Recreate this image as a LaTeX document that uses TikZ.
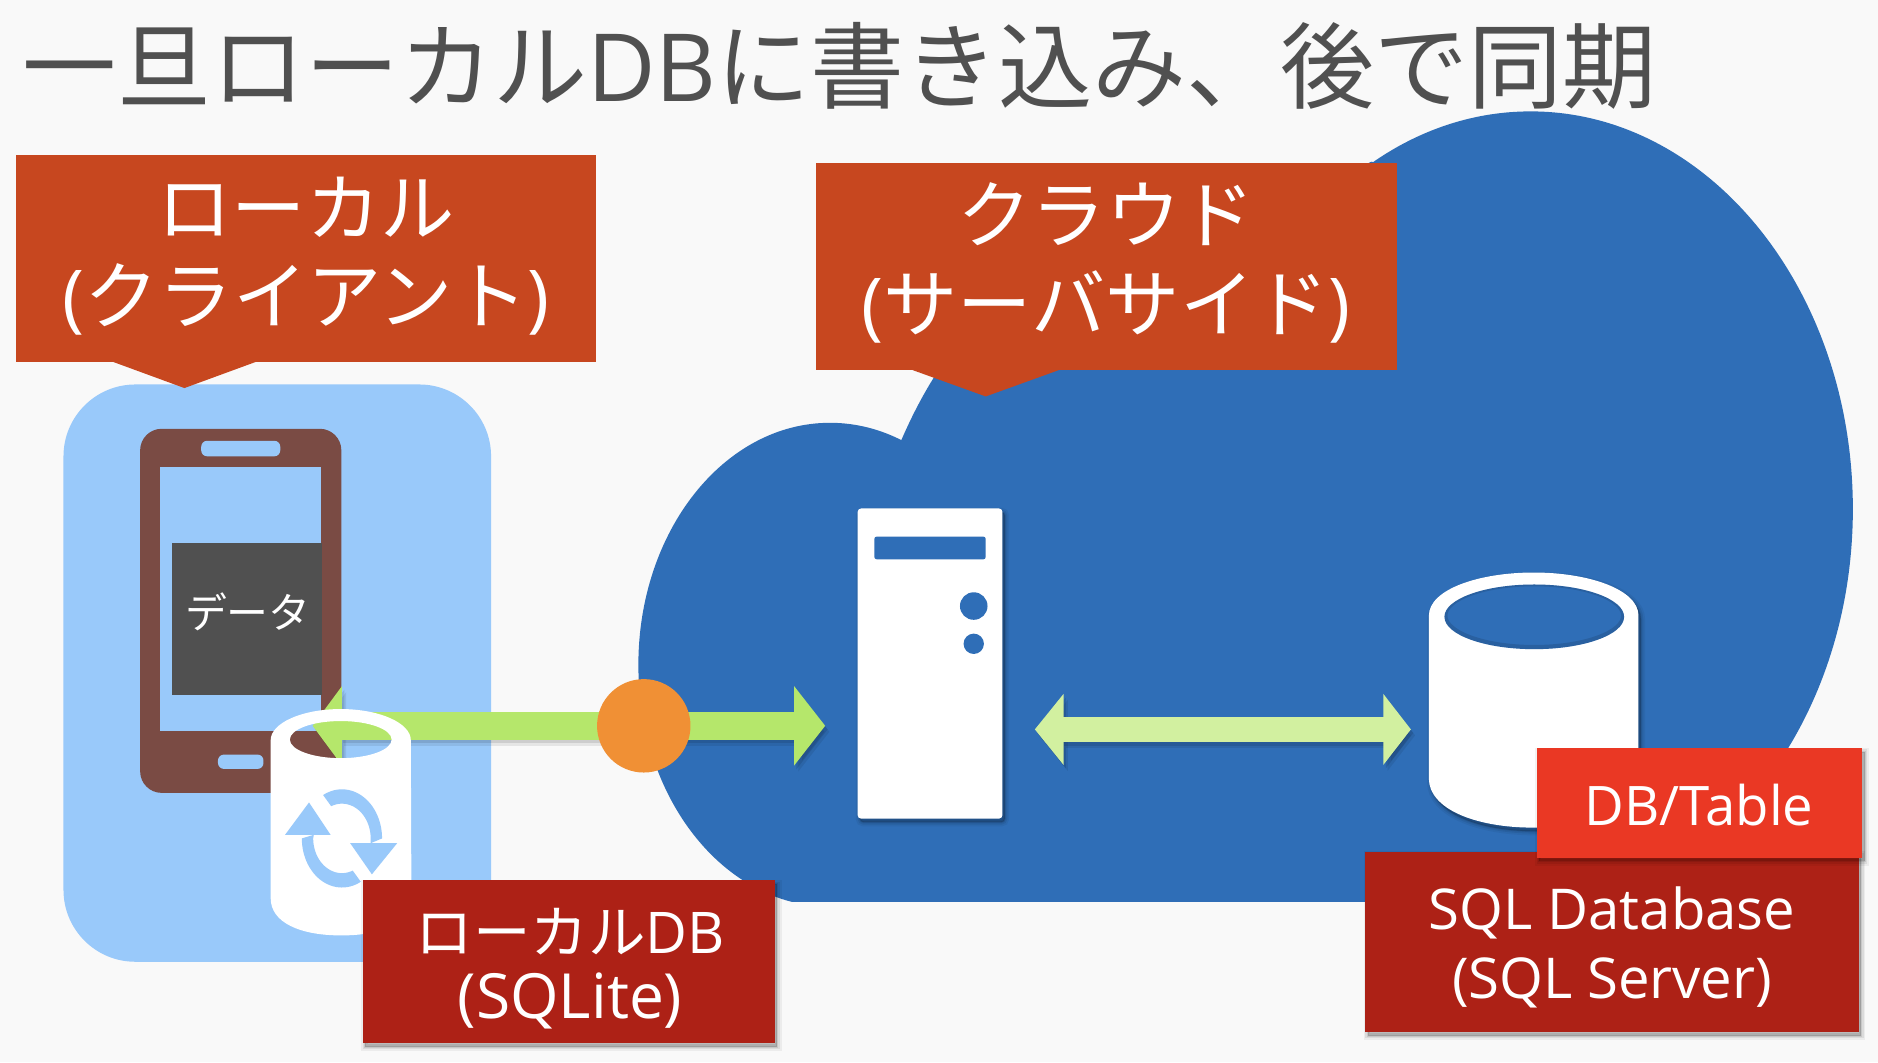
\documentclass[tikz,border=0pt]{standalone}
\usepackage{fontspec}
\usetikzlibrary{arrows.meta,shadows,shapes.geometric}
\setmainfont{Open Sans}
\newfontfamily\cjk{Noto Sans CJK JP}
\definecolor{bgc}{HTML}{F9F9F9}
\definecolor{cloudblue}{HTML}{2F6EB7}
\definecolor{paleblue}{HTML}{99C9FA}
\definecolor{phonebrown}{HTML}{7A4B44}
\definecolor{darkgray}{HTML}{505050}
\definecolor{callout}{HTML}{C7471F}
\definecolor{darkred}{HTML}{AD2116}
\definecolor{brightred}{HTML}{EA3824}
\definecolor{green1}{HTML}{B5E76B}
\definecolor{green2}{HTML}{D2F0A0}
\definecolor{orangec}{HTML}{F09035}
\tikzset{
  softshadow/.style={
    general shadow={shadow xshift=2pt,shadow yshift=-3pt,fill=black,draw=black,line width=7pt,fill opacity=.05,draw opacity=.05},
    general shadow={shadow xshift=2pt,shadow yshift=-3pt,fill=black,draw=black,line width=4pt,fill opacity=.07,draw opacity=.07},
    general shadow={shadow xshift=2pt,shadow yshift=-3pt,fill=black,draw=black,line width=1.5pt,fill opacity=.09,draw opacity=.09}},
  boxnode/.style={rectangle,inner sep=0pt,outer sep=0pt},
  labeltext/.style={inner sep=0pt,text=white,align=center},
  syncfill/.style={fill=paleblue,draw=none},
  arrowshadow/.style={preaction={draw=black,opacity=.1,line width=#1,transform canvas={xshift=2pt,yshift=-3pt}},
                      preaction={draw=black,opacity=.08,line width=#1,transform canvas={xshift=3.5pt,yshift=-5pt}}},
}
\begin{document}
\begin{tikzpicture}[x=1pt,y=-1pt]
\useasboundingbox (0,0) rectangle (1568,886.7);
\fill[bgc] (0,0) rectangle (1568,886.7);

% cloud
\begin{scope}
  \clip (0,0) rectangle (1568,753);
  \fill[cloudblue] (693,555) ellipse [x radius=160,y radius=202];
  \fill[cloudblue] (1278,425) ellipse [x radius=269,y radius=332];
  \fill[cloudblue] (751,371) .. controls (760,350) and (770,330) .. (783,310) -- (1145,135) -- (1400,200) -- (1490,640) -- (1440,753) -- (693,753) -- cycle;
\end{scope}

% client panel
\node[boxnode,fill=paleblue,rounded corners=60pt,minimum width=357pt,minimum height=482pt] (panel) at (231.5,562) {};

% phone
\node[boxnode,fill=phonebrown,rounded corners=18pt,minimum width=168pt,minimum height=304pt] (phone) at (201,510) {};
\node[boxnode,fill=paleblue,rounded corners=5pt,minimum width=66pt,minimum height=13pt] (speaker) at (201,374.5) {};
\node[boxnode,fill=paleblue,minimum width=134pt,minimum height=220pt] (screen) at (201,500) {};
\node[boxnode,fill=paleblue,rounded corners=5pt,minimum width=38pt,minimum height=12pt] (homebtn) at (201,636) {};
\node[boxnode,fill=darkgray,minimum width=125pt,minimum height=127pt] (data) at (206.5,516.5) {};
\node[labeltext,font=\cjk\fontsize{35}{40}\selectfont] (datatext) at (207,511) {データ};

% main arrow
\coordinate (mainL) at (261,606);
\coordinate (mainR) at (689,606);
\draw[green1,line width=23pt,{Triangle[length=24.5pt,width=65pt]}-{Triangle[length=26pt,width=65pt]},arrowshadow=23pt] (mainL) -- (mainR);

% local cylinder
\fill[white,even odd rule]
  (226,618) arc [start angle=180,end angle=360,x radius=58.5,y radius=26]
  -- (343.5,750) .. controls (343.5,770) and (320,781) .. (285,781) .. controls (250,781) and (226,770) .. (226,750) -- cycle
  (284.5,617.5) ellipse [x radius=42.5,y radius=15.5];

% sync icon
\fill[syncfill] plot[domain=-118:0,samples=30] ({285.5+33.5*cos(\x)},{700+41*sin(\x)}) -- (309.5,704)
  -- plot[domain=0:-112,samples=30] ({285.5+24*cos(\x)},{700+29*sin(\x)}) -- cycle;
\fill[syncfill] plot[domain=62:180,samples=30] ({285.5+33.5*cos(\x)},{700+41*sin(\x)}) -- (262,697)
  -- plot[domain=180:68,samples=30] ({285.5+24*cos(\x)},{700+29*sin(\x)}) -- cycle;
\fill[syncfill] (258,670) -- (276,697) -- (238,697) -- cycle;
\fill[syncfill] (310.5,730) -- (292.4,704) -- (331.6,704) -- cycle;

% local DB label
\node[boxnode,fill=darkred,softshadow,minimum width=344pt,minimum height=136pt] (localdb) at (475,803) {};
\node[labeltext,font=\fontsize{48}{54}\selectfont] (localdbtext) at (476,808.5) {{\cjk ローカル}DB\\{\fontsize{52}{54}\selectfont (SQLite)}};

% sync point
\node[circle,fill=orangec,minimum size=78pt,inner sep=0pt] (syncpt) at (537.5,606) {};

% server
\node[boxnode,fill=white,rounded corners=3pt,softshadow,minimum width=121pt,minimum height=259pt] (server) at (776.5,554) {};
\node[boxnode,fill=cloudblue,rounded corners=2pt,minimum width=93pt,minimum height=19pt] (lcd) at (776.5,457.5) {};
\node[circle,fill=cloudblue,minimum size=23pt,inner sep=0pt] (btnA) at (813,506) {};
\node[circle,fill=cloudblue,minimum size=17pt,inner sep=0pt] (btnB) at (813,537.5) {};

% DB cylinder
\fill[white,softshadow]
  (1193,514) .. controls (1193,492) and (1235,478) .. (1280.5,478) .. controls (1326,478) and (1368,492) .. (1368,514)
  -- (1368,650) .. controls (1368,675) and (1330,691) .. (1280.5,691) .. controls (1231,691) and (1193,675) .. (1193,650) -- cycle;
\fill[cloudblue] (1281,515) ellipse [x radius=75,y radius=27];
\begin{scope}
  \clip (1281,515) ellipse [x radius=75,y radius=27];
  \draw[black,opacity=.12,line width=5pt] (1281,514) ellipse [x radius=75,y radius=27];
\end{scope}

% db arrow
\coordinate (dbL) at (864,609);
\coordinate (dbR) at (1178,609);
\draw[green2,line width=21pt,{Triangle[length=24pt,width=58pt]}-{Triangle[length=23pt,width=58pt]},arrowshadow=21pt] (dbL) -- (dbR);

% SQL labels
\node[boxnode,fill=darkred,softshadow,minimum width=412pt,minimum height=150.5pt] (sqldb) at (1346,786.5) {};
\node[labeltext,font=\fontsize{47}{57}\selectfont] (sqldbtext) at (1346,791) {SQL Database\\(SQL Server)};
\node[boxnode,fill=brightred,softshadow,minimum width=272pt,minimum height=91.5pt] (dbtable) at (1419,670.5) {};
\node[labeltext,font=\fontsize{45.5}{57}\selectfont] (dbtabletext) at (1418.5,672) {DB/Table};

% callouts
\fill[callout] (94,302) -- (154,324) -- (214,302) -- cycle;
\node[boxnode,fill=callout,minimum width=485pt,minimum height=173pt] (local) at (255.5,215.5) {};
\node[labeltext,font=\fontsize{62}{73}\selectfont] (localtext) at (255.5,214) {{\cjk ローカル}\\({\cjk クライアント})};
\fill[callout] (762,309) -- (823,331) -- (884,309) -- cycle;
\node[boxnode,fill=callout,minimum width=485pt,minimum height=173pt] (cloud) at (923.5,222.5) {};
\node[labeltext,font=\fontsize{62}{74}\selectfont] (cloudtext) at (923.5,219.5) {{\cjk クラウド}\\({\cjk サーバサイド})};

% title
\node[anchor=west,inner sep=0pt,text=darkgray,font=\fontsize{78.5}{90}\selectfont] (title) at (19,55) {{\cjk 一旦ローカル}DB{\cjk に書き込み、後で同期}};
\end{tikzpicture}
\end{document}
